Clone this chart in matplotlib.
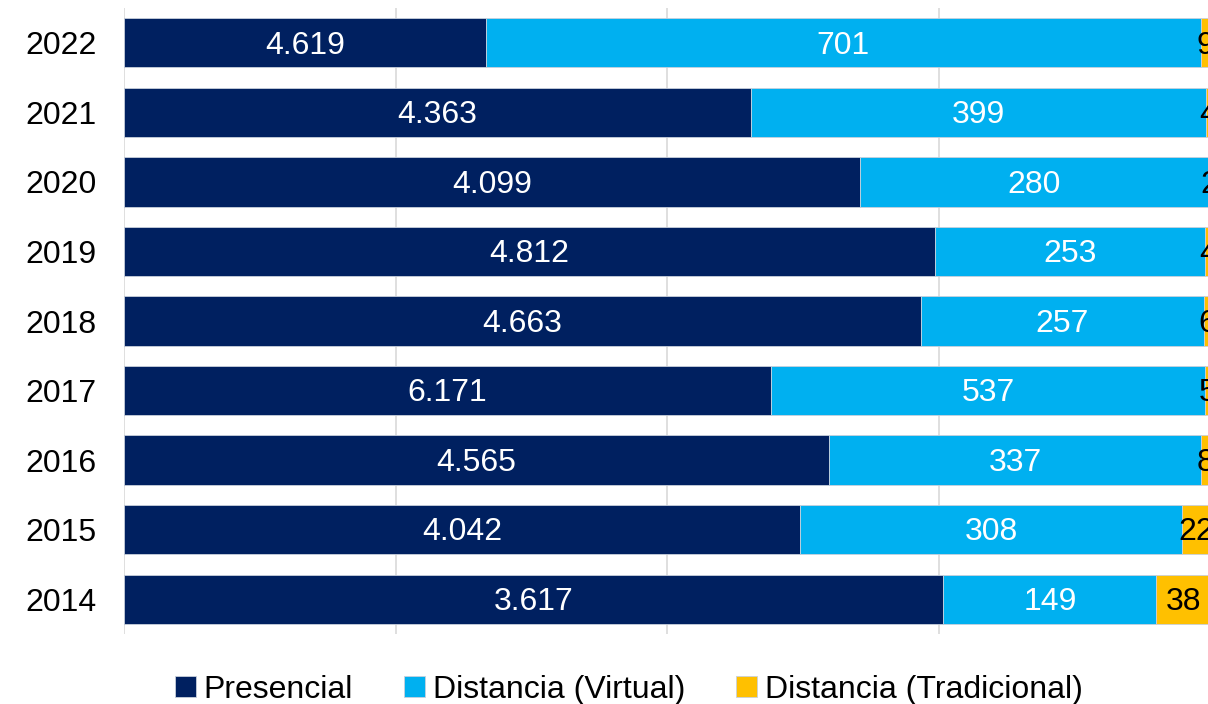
import numpy as np
import matplotlib.pyplot as plt

plt.rcParams['font.family'] = ['Liberation Sans', 'DejaVu Sans']

years = ['2022', '2021', '2020', '2019', '2018', '2017', '2016', '2015', '2014']

# bar shares as drawn (100% stacked)
share_pres = [0.333, 0.577, 0.677, 0.746, 0.733, 0.595, 0.649, 0.622, 0.754]
share_virt = [0.658, 0.419, 0.321, 0.249, 0.261, 0.400, 0.342, 0.352, 0.196]
share_trad = [0.009, 0.004, 0.002, 0.005, 0.006, 0.005, 0.009, 0.026, 0.050]

# data labels shown on the bars
lab_pres = ['4.619', '4.363', '4.099', '4.812', '4.663', '6.171', '4.565', '4.042', '3.617']
lab_virt = ['701', '399', '280', '253', '257', '537', '337', '308', '149']
lab_trad = ['9', '4', '2', '4', '6', '5', '8', '22', '38']

series = ['Presencial', 'Distancia (Virtual)', 'Distancia (Tradicional)']
colors = ['#002060', '#00B0F0', '#FFC000']

fig = plt.figure(figsize=(12.08, 7.04), dpi=100)
ax = fig.add_axes([124/1208, 1 - 634/704, 1086.7/1208, 626/704])

y = np.arange(len(years))
left = np.zeros(len(years))
for vals, labs, col, name, tcol in zip([share_pres, share_virt, share_trad],
                                        [lab_pres, lab_virt, lab_trad],
                                        colors, series,
                                        ['white', 'white', 'black']):
    vals = np.array(vals)
    bars = ax.barh(y, vals, left=left, height=0.71, color=col, label=name,
                   edgecolor='#c8d0dc', linewidth=0.6, clip_on=False)
    for b, t in zip(bars, labs):
        ax.text(b.get_x() + b.get_width() / 2, b.get_y() + b.get_height() / 2 + 0.04, t,
                ha='center', va='center', color=tcol, fontsize=23)
    left = left + vals

ax.set_xlim(0, 1)
ax.set_ylim(len(years) - 0.5, -0.5)
ax.set_yticks(y)
ax.set_yticklabels(years, fontsize=23)
ax.set_xticks([0, 0.25, 0.5, 0.75, 1.0])
ax.set_xticklabels([])
ax.tick_params(length=0, pad=19.5)
ax.grid(axis='x', color='#d9d9d9', linewidth=1.2)
ax.set_axisbelow(True)
for s in ax.spines.values():
    s.set_visible(False)

fig.legend(loc='center', bbox_to_anchor=(629/1208, 1 - 690/704), ncol=3, frameon=False,
           fontsize=23, handlelength=0.65, handleheight=0.65, handletextpad=0.25,
           columnspacing=1.6)

fig.savefig('out.png', dpi=100)
